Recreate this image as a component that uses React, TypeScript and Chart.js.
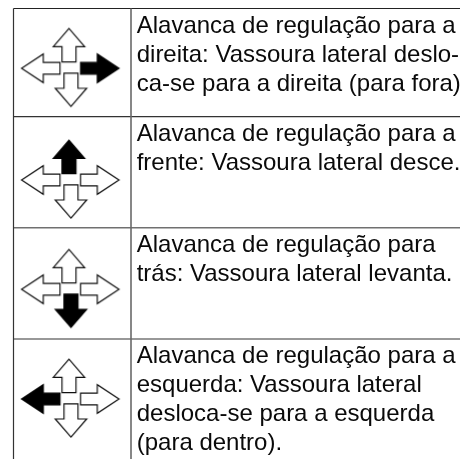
import React, { useEffect, useRef } from "react";
import { Chart, registerables } from "chart.js";

Chart.register(...registerables);

const WIDTH = 460;
const HEIGHT = 459;

// Table rules (axis units are page pixels)
const rowEdges = [8.5, 116.7, 227.7, 339];
const columnEdges = [13.5, 131];
const rowRuleColors = ["#222222", "#333333", "#707070", "#333333"];

// Lever icon: one centre per row, and the direction drawn solid in that row
const iconCentreX = 70.3;
const iconCentreY = [68.3, 180, 289.3, 399];
const activeDirection = ["right", "up", "down", "left"];
const directions = ["up", "down", "left", "right"];

// Text cells
const textX = 136.7;
const firstBaseline = [32.5, 140.5, 252, 362.8];
const lineHeight = 29.2;
const rowText = [
  ["Alavanca de regulação para a", "direita: Vassoura lateral deslo-", "ca-se para a direita (para fora)."],
  ["Alavanca de regulação para a", "frente: Vassoura lateral desce."],
  ["Alavanca de regulação para", "trás: Vassoura lateral levanta."],
  ["Alavanca de regulação para a", "esquerda: Vassoura lateral", "desloca-se para a esquerda", "(para dentro)."],
];

function makeArrow(direction: string, solid: boolean): HTMLCanvasElement {
  const size = 110;
  const c = document.createElement("canvas");
  c.width = size;
  c.height = size;
  const g = c.getContext("2d") as CanvasRenderingContext2D;
  g.translate(size / 2, size / 2);
  const horizontal = direction === "left" || direction === "right";
  const start = horizontal ? 10.3 : 5.6;
  const neck = horizontal ? 27 : 20.8;
  const tip = horizontal ? 48.7 : 39;
  const shaft = horizontal ? 5.8 : 7;
  const head = horizontal ? 14.3 : 15.7;
  const sign = direction === "right" || direction === "down" ? 1 : -1;
  const shiftX = direction === "up" ? -1.3 : direction === "down" ? 0.7 : 0;
  const shiftY = horizontal ? 0 : -0.8;
  const pts = [
    [start, -shaft],
    [neck, -shaft],
    [neck, -head],
    [tip, 0],
    [neck, head],
    [neck, shaft],
    [start, shaft],
  ];
  g.beginPath();
  pts.forEach(([a, b], i) => {
    const x = (horizontal ? sign * a : b) + shiftX;
    const y = (horizontal ? b : sign * a) + shiftY;
    if (i === 0) g.moveTo(x, y);
    else g.lineTo(x, y);
  });
  g.closePath();
  g.fillStyle = solid ? "#000000" : "#ffffff";
  g.fill();
  g.strokeStyle = solid ? "#000000" : "#111111";
  g.lineWidth = 1.2;
  g.lineJoin = "miter";
  g.stroke();
  return c;
}

const textPlugin = {
  id: "cellText",
  afterDatasetsDraw(chart: any) {
    const { ctx, scales } = chart;
    ctx.save();
    ctx.fillStyle = "#0a0a0a";
    ctx.font = '24px "Liberation Sans"';
    ctx.textAlign = "left";
    ctx.textBaseline = "alphabetic";
    rowText.forEach((lines, r) => {
      lines.forEach((line, i) => {
        ctx.fillText(line, scales.x.getPixelForValue(textX), scales.y.getPixelForValue(firstBaseline[r] + i * lineHeight));
      });
    });
    ctx.restore();
  },
};

export default function App() {
  const ref = useRef<HTMLCanvasElement>(null);
  useEffect(() => {
    document.body.style.margin = "0";
    const iconPoints: { x: number; y: number }[] = [];
    const iconStyles: HTMLCanvasElement[] = [];
    iconCentreY.forEach((y, r) => {
      directions.forEach((d) => {
        iconPoints.push({ x: iconCentreX, y });
        iconStyles.push(makeArrow(d, d === activeDirection[r]));
      });
    });
    const rowRules = rowEdges.map((y, i) => ({
      type: "line" as const,
      data: [{ x: columnEdges[0], y }, { x: WIDTH, y }],
      borderColor: rowRuleColors[i],
      borderWidth: i === 2 ? 1.6 : 1.2,
      pointRadius: 0,
    }));
    const columnRules = columnEdges.map((x, i) => ({
      type: "line" as const,
      data: [{ x, y: rowEdges[0] }, { x, y: HEIGHT }],
      borderColor: i === 0 ? "#333333" : "#6a6a6a",
      borderWidth: i === 0 ? 1.2 : 1.6,
      pointRadius: 0,
    }));
    const chart = new Chart(ref.current as HTMLCanvasElement, {
      type: "scatter",
      data: {
        datasets: [
          ...columnRules,
          ...rowRules,
          {
            type: "scatter" as const,
            data: iconPoints,
            pointStyle: iconStyles,
            pointRadius: 10,
            showLine: false,
          },
        ] as any,
      },
      options: {
        animation: false,
        responsive: false,
        layout: { padding: 0, autoPadding: false },
        events: [],
        plugins: { legend: { display: false }, title: { display: false }, tooltip: { enabled: false } },
        scales: {
          x: { type: "linear", min: 0, max: WIDTH, display: false },
          y: { type: "linear", min: 0, max: HEIGHT, reverse: true, display: false },
        },
      },
      plugins: [textPlugin],
    });
    return () => chart.destroy();
  }, []);
  return (
    <div style={{ position: "absolute", left: 0, top: 0, width: WIDTH, height: HEIGHT, background: "#fff" }}>
      <canvas ref={ref} width={WIDTH} height={HEIGHT} style={{ display: "block" }} />
    </div>
  );
}
